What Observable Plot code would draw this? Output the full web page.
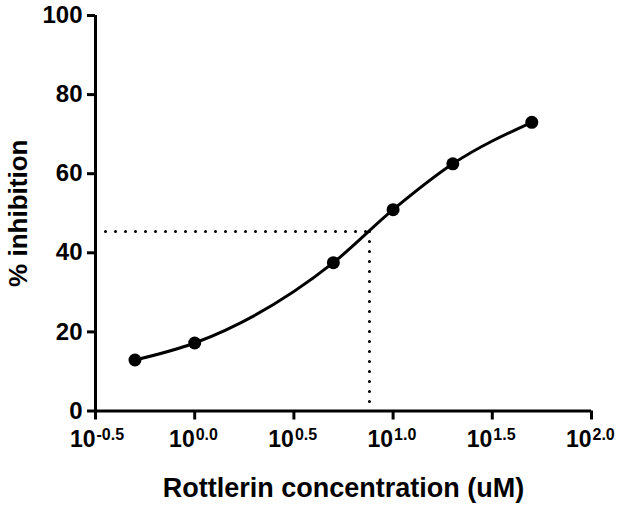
<!DOCTYPE html>
<html>
<head>
<meta charset="utf-8">
<script src="https://cdn.jsdelivr.net/npm/d3@7"></script>
<script src="https://cdn.jsdelivr.net/npm/@observablehq/plot@0.6"></script>
<style>
  html, body { margin: 0; padding: 0; background: #fff; }
  svg { display: block; }
</style>
</head>
<body>
<div id="chart"></div>
<script>
// Data
const concentration = [0.5, 1, 5, 10, 20, 50];          // uM
const inhibition = [12.9, 17.2, 37.5, 50.9, 62.5, 73.0]; // %
const xTickExponents = [-0.5, 0, 0.5, 1, 1.5, 2];
const xTickExpLabels = ["-0.5", "0.0", "0.5", "1.0", "1.5", "2.0"];
const yTicks = [0, 20, 40, 60, 80, 100];
const ic50Conc = 7.6;
const ic50Inhib = 45.4;

const points = concentration.map((c, i) => ({x: c, y: inhibition[i]}));
const xTicks = xTickExponents.map((e, i) => ({x: Math.pow(10, e), lab: xTickExpLabels[i]}));
const xMin = Math.pow(10, -0.5), xMax = 100;

const chart = Plot.plot({
  width: 621,
  height: 506,
  marginLeft: 95,
  marginRight: 30,
  marginTop: 15,
  marginBottom: 95.5,
  style: {fontFamily: "Liberation Sans, Arial, sans-serif", fontWeight: "bold", color: "black", background: "white"},
  x: {type: "log", domain: [xMin, xMax]},
  y: {domain: [0, 100]},
  marks: [
    // dotted guide lines
    Plot.line([{x: xMin, y: ic50Inhib}, {x: ic50Conc, y: ic50Inhib}], {x: "x", y: "y", stroke: "black", strokeWidth: 3, strokeDasharray: "0,10", strokeLinecap: "round"}),
    Plot.line([{x: ic50Conc, y: ic50Inhib}, {x: ic50Conc, y: 0}], {x: "x", y: "y", stroke: "black", strokeWidth: 3, strokeDasharray: "0,10", strokeLinecap: "round"}),
    // axes
    Plot.axisY({ticks: yTicks, tickSize: 8, strokeWidth: 3, tickFormat: () => "", label: null}),
    Plot.axisX({ticks: xTickExponents.map(e => Math.pow(10, e)), tickSize: 9, strokeWidth: 3, tickFormat: () => "", label: null}),
    Plot.ruleY([0], {stroke: "black", strokeWidth: 3}),
    Plot.ruleX([xMin], {stroke: "black", strokeWidth: 3}),
    // y tick labels
    Plot.text(yTicks, {y: d => d, text: d => String(d), frameAnchor: "left", dx: -13, textAnchor: "end", lineAnchor: "middle", fontSize: 24, fontWeight: "bold", fill: "black"}),
    // x tick labels 10^e
    Plot.text(xTicks, {x: "x", text: () => "10", frameAnchor: "bottom", dy: 29, textAnchor: "end", lineAnchor: "middle", fontSize: 23, fontWeight: "bold", fill: "black"}),
    Plot.text(xTicks, {x: "x", text: "lab", frameAnchor: "bottom", dy: 24, dx: 1, textAnchor: "start", lineAnchor: "middle", fontSize: 16, fontWeight: "bold", fill: "black"}),
    // titles
    Plot.text(["Rottlerin concentration (uM)"], {frameAnchor: "bottom", dy: 77, textAnchor: "middle", lineAnchor: "middle", fontSize: 27, fontWeight: "bold", fill: "black"}),
    Plot.text(["% inhibition"], {frameAnchor: "left", dx: -77, rotate: -90, textAnchor: "middle", lineAnchor: "middle", fontSize: 26, fontWeight: "bold", fill: "black"}),
    // fitted curve and points
    Plot.line(points, {x: "x", y: "y", curve: "monotone-x", stroke: "black", strokeWidth: 3}),
    Plot.dot(points, {x: "x", y: "y", r: 6.5, fill: "black", stroke: "none"})
  ]
});
document.getElementById("chart").appendChild(chart);
</script>
</body>
</html>
